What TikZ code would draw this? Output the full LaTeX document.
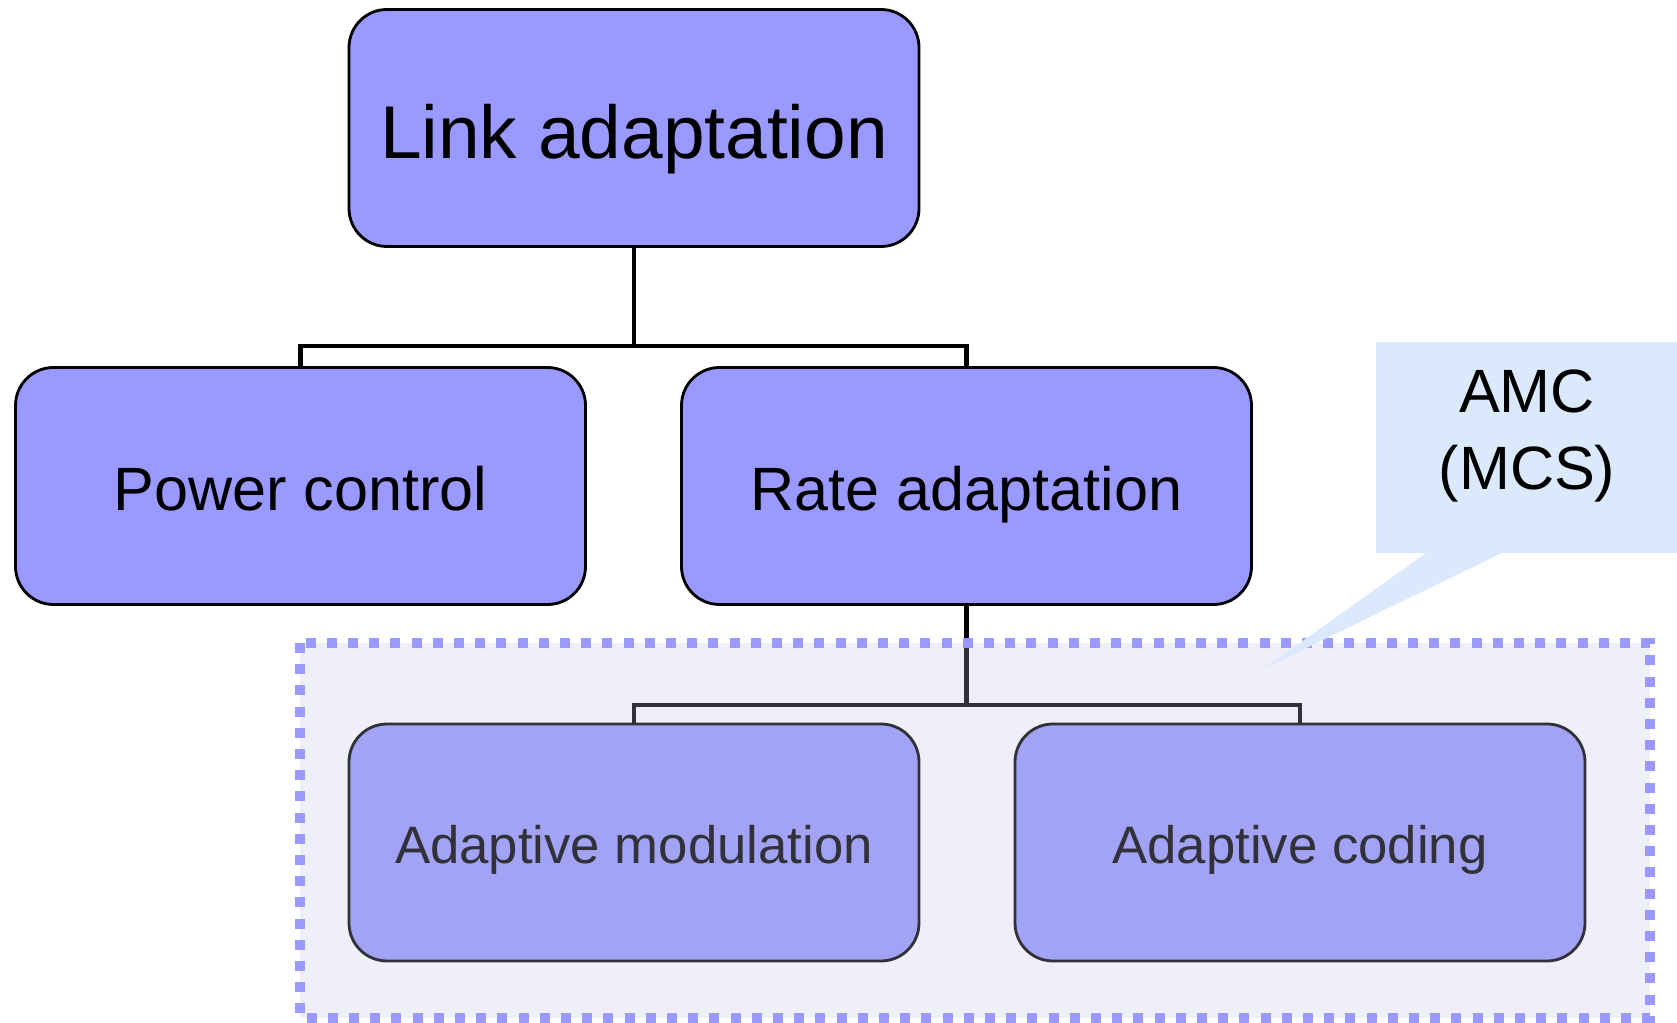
\documentclass[tikz,border=0pt]{standalone}
\usepackage{fontspec}
\setmainfont{Liberation Sans}
\definecolor{boxfill}{HTML}{9999FF}
\definecolor{callfill}{HTML}{DAEAFC}
\definecolor{veil}{HTML}{C0C0E0}
\begin{document}
\begin{tikzpicture}[x=1cm,y=1cm,
  box/.style={draw=black, line width=0.8pt, fill=boxfill, rounded corners=0.38cm,
    minimum width=5.7cm, minimum height=2.37cm, inner sep=0pt, align=center, text depth=0pt},
  conn/.style={draw=black, line width=1.3pt},
  bigtxt/.style={font=\fontsize{21.3pt}{25pt}\selectfont, text height=0.61cm},
  midtxt/.style={font=\fontsize{17.4pt}{21pt}\selectfont, text height=0.50cm},
  smalltxt/.style={font=\fontsize{15pt}{18pt}\selectfont, text height=0.43cm}]
\useasboundingbox (0,0) rectangle (16.77,-10.23);
% nodes
\node[box, bigtxt] (link) at (6.34,-1.28) {Link adaptation};
\node[box, midtxt] (power) at (3.005,-4.86) {Power control};
\node[box, midtxt] (rate) at (9.665,-4.86) {Rate adaptation};
\node[box, smalltxt] (amod) at (6.34,-8.425) {Adaptive modulation};
\node[box, smalltxt] (acod) at (13.00,-8.425) {Adaptive coding};
% connectors
\draw[conn] (link.south) -- ++(0,-0.98) -| (power.north);
\draw[conn] (link.south) -- ++(0,-0.98) -| (rate.north);
\draw[conn] (rate.south) -- ++(0,-0.99) -| (amod.north);
\draw[conn] (rate.south) -- ++(0,-0.99) -| (acod.north);
% grouping veil and dashed frame
\coordinate (g1) at (3.00,-6.43);
\coordinate (g2) at (16.50,-10.18);
\fill[veil, opacity=0.26] (g1) rectangle (g2);
\draw[boxfill, line width=0.1cm, dash pattern=on 0.1cm off 0.112cm] (g1) rectangle (g2);
% callout
\fill[callfill] (13.76,-3.42) -- (16.77,-3.42) -- (16.77,-5.53) -- (15.02,-5.53)
  -- (12.65,-6.68) -- (14.26,-5.53) -- (13.76,-5.53) -- cycle;
\node[font=\fontsize{17.4pt}{21pt}\selectfont, align=center, inner sep=0pt] (amc) at (15.27,-4.36) {AMC\\[1pt](MCS)};
\end{tikzpicture}
\end{document}
